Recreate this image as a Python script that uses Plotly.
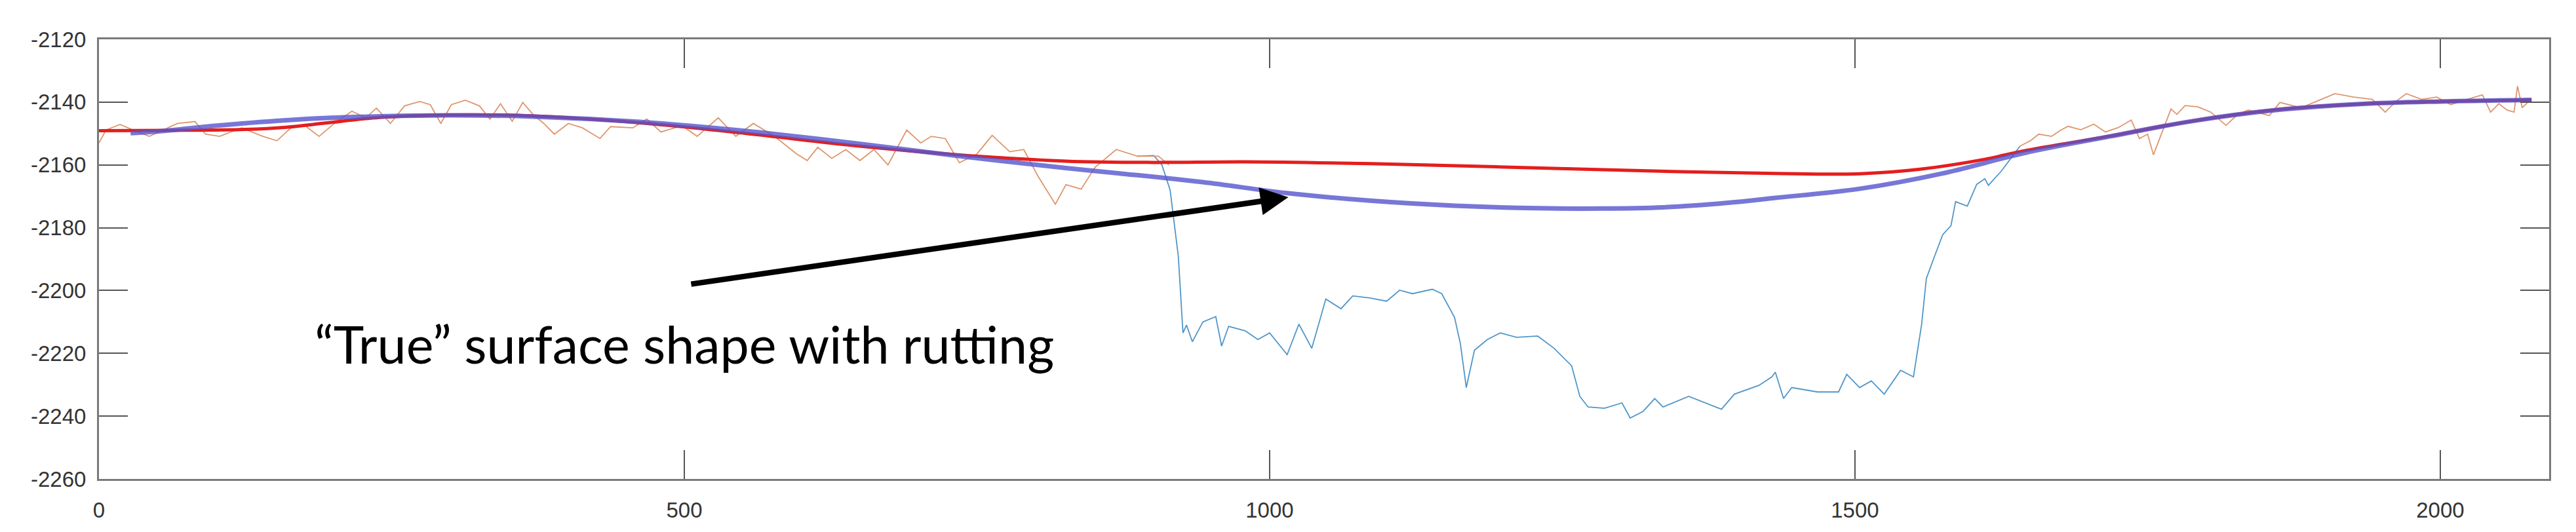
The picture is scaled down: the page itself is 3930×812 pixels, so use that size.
import plotly.graph_objects as go

# ---------------- data ----------------
# thin orange profile (outside the rut)
orange_x_left = [0, 6, 18, 31, 43, 67, 82, 91, 103, 122, 140, 152, 164, 176, 188, 201, 216, 228, 237, 249,
                 261, 274, 283, 292, 301, 313, 325, 334, 343, 353, 362, 371, 380, 389, 401, 413, 428, 437,
                 456, 468, 480, 498, 511, 529, 544, 559, 577, 596, 605, 614, 626, 638, 650, 662, 674, 690,
                 702, 711, 723, 735, 750, 763, 778, 790, 802, 817, 826, 839, 851, 869, 887, 905, 914]
orange_y_left = [-2153, -2148.9, -2147.1, -2149.2, -2150.9, -2146.8, -2146.2, -2150.2, -2150.9, -2148.2,
                 -2150.9, -2152.3, -2148.2, -2147.5, -2150.9, -2146.8, -2142.9, -2145.0, -2141.9, -2146.8,
                 -2141.2, -2139.8, -2140.8, -2146.8, -2140.8, -2139.4, -2141.2, -2145.4, -2140.5, -2146.1,
                 -2140.1, -2144.0, -2146.8, -2150.2, -2146.8, -2148.2, -2151.6, -2147.8, -2148.2, -2145.4,
                 -2149.5, -2147.5, -2150.9, -2145.0, -2150.9, -2146.8, -2150.9, -2156.5, -2158.6, -2154.4,
                 -2157.9, -2155.1, -2158.6, -2155.1, -2160.0, -2148.9, -2153.0, -2150.9, -2151.6, -2159.3,
                 -2156.5, -2150.6, -2155.8, -2155.1, -2163.5, -2172.5, -2166.3, -2167.7, -2160.7, -2155.1,
                 -2157.2, -2157.2, -2160.0]
orange_x_right = [1641, 1650, 1657, 1668, 1675, 1682, 1693, 1704, 1714, 1725, 1736, 1743, 1750, 1755, 1761,
                  1770, 1775, 1782, 1793, 1804, 1817, 1827, 1836, 1854, 1863, 1881, 1894, 1910, 1926, 1942,
                  1953, 1962, 1971, 1984, 1997, 2009, 2023, 2036, 2043, 2050, 2057, 2063, 2066, 2070, 2077]
orange_y_right = [-2154.0, -2152.3, -2150.2, -2150.9, -2149.1, -2147.7, -2148.8, -2147.0, -2149.5, -2148.1,
                  -2145.7, -2151.6, -2150.2, -2156.8, -2150.9, -2142.2, -2143.9, -2141.1, -2141.5, -2143.2,
                  -2147.4, -2143.9, -2142.5, -2144.3, -2140.1, -2141.8, -2139.8, -2137.3, -2138.4, -2139.1,
                  -2143.2, -2139.8, -2137.3, -2139.1, -2138.4, -2140.8, -2139.1, -2137.7, -2143.2, -2140.5,
                  -2142.5, -2143.2, -2134.9, -2141.8, -2139.2]

# thin blue profile (rutted section)
rut_x = [887, 901, 908, 915, 922, 926, 929, 934, 943, 954, 959, 965, 979, 990, 1000, 1015, 1025, 1036,
         1043, 1048, 1061, 1071, 1086, 1100, 1111, 1122, 1139, 1147, 1158, 1163, 1168, 1175, 1186, 1197,
         1211, 1229, 1243, 1258, 1265, 1272, 1286, 1301, 1308, 1319, 1329, 1336, 1358, 1372, 1386, 1397,
         1418, 1429, 1432, 1439, 1446, 1468, 1486, 1493, 1504, 1514, 1525, 1539, 1550, 1557, 1561, 1568,
         1575, 1582, 1586, 1596, 1604, 1611, 1614, 1625, 1632, 1641]
rut_y = [-2157.2, -2157.0, -2160.0, -2168.0, -2189.1, -2213.5, -2211.0, -2216.3, -2210.0, -2208.3, -2217.7,
         -2211.4, -2212.8, -2215.6, -2213.5, -2220.4, -2210.7, -2218.4, -2209.3, -2202.7, -2205.8, -2201.7,
         -2202.4, -2203.4, -2199.9, -2201.0, -2199.6, -2201.0, -2208.6, -2217.0, -2230.9, -2219.0, -2215.6,
         -2213.5, -2214.9, -2214.5, -2218.4, -2224.0, -2233.7, -2237.1, -2237.5, -2235.8, -2240.6, -2238.5,
         -2234.4, -2237.1, -2233.7, -2235.8, -2237.8, -2233.0, -2230.2, -2227.5, -2226.0, -2234.4, -2230.9,
         -2232.3, -2232.3, -2226.7, -2230.9, -2228.8, -2233.0, -2225.4, -2227.5, -2210.7, -2196.2, -2189.1,
         -2182.2, -2179.4, -2171.7, -2173.1, -2166.2, -2164.4, -2166.5, -2162.0, -2158.5, -2154.0]

# red smooth fit
red_x = [0, 60, 125, 160, 195, 240, 300, 371, 462, 553, 644, 735, 826, 900, 979, 1086, 1193, 1301, 1432,
         1504, 1557, 1611, 1646, 1718, 1789, 1861, 1932, 2000, 2078]
red_y = [-2149.1, -2149.0, -2148.7, -2148.0, -2146.6, -2144.9, -2144.1, -2144.4, -2146.6, -2150.0, -2153.8,
         -2156.8, -2158.8, -2159.2, -2159.0, -2159.6, -2160.6, -2161.7, -2162.7, -2162.8, -2161.3, -2158.2,
         -2155.4, -2150.8, -2146.0, -2142.4, -2140.6, -2139.8, -2139.3]

# "true" surface shape (blue thick)
true_x = [27, 60, 97, 158, 219, 298, 371, 462, 553, 644, 735, 826, 872, 943, 1015, 1086, 1158, 1229, 1283,
          1336, 1390, 1432, 1504, 1575, 1646, 1718, 1789, 1861, 1932, 2000, 2078]
true_y = [-2149.9, -2149.0, -2147.6, -2145.8, -2144.7, -2144.2, -2144.6, -2146.3, -2149.2, -2153.0, -2157.2,
          -2161.0, -2162.7, -2165.5, -2169.0, -2171.4, -2173.0, -2173.8, -2173.9, -2173.5, -2172.1, -2170.5,
          -2167.6, -2162.7, -2156.1, -2150.9, -2146.0, -2142.5, -2140.6, -2139.8, -2139.3]

x_ticks = [0, 500, 1000, 1500, 2000]
x_tick_text = ["0", "500", "1000", "1500", "2000"]
y_ticks = [-2260, -2240, -2220, -2200, -2180, -2160, -2140, -2120]
y_tick_text = ["-2260", "-2240", "-2220", "-2200", "-2180", "-2160", "-2140", "-2120"]

annotation_text = "\u201cTrue\u201d surface shape with rutting"

# ---------------- figure ----------------
fig = go.Figure()
fig.add_trace(go.Scatter(x=rut_x, y=rut_y, mode="lines",
                         line=dict(color="rgb(80,150,200)", width=1.8)))
fig.add_trace(go.Scatter(x=orange_x_left, y=orange_y_left, mode="lines",
                         line=dict(color="rgb(222,150,110)", width=1.8)))
fig.add_trace(go.Scatter(x=orange_x_right, y=orange_y_right, mode="lines",
                         line=dict(color="rgb(222,150,110)", width=1.8)))
fig.add_trace(go.Scatter(x=red_x, y=red_y, mode="lines", line_shape="spline",
                         line=dict(color="rgb(228,30,30)", width=5)))
fig.add_trace(go.Scatter(x=true_x, y=true_y, mode="lines", line_shape="spline",
                         line=dict(color="rgba(85,85,205,0.8)", width=7)))

fig.add_annotation(x=500, y=-2217, xref="x", yref="y", text=annotation_text, showarrow=False,
                   font=dict(family="Lato", size=79, color="black"))
fig.add_annotation(x=1016, y=-2170.3, xref="x", yref="y", ax=505, ay=-2198, axref="x", ayref="y",
                   text="", showarrow=True, arrowhead=2, arrowsize=1, arrowwidth=8.5, arrowcolor="black")

axis_common = dict(showline=True, linecolor="#7a7a7a", linewidth=3, mirror="ticks", ticks="inside",
                   ticklen=44, tickwidth=2, tickcolor="#555555", showgrid=False, zeroline=False,
                   tickfont=dict(family="Liberation Sans", size=33, color="#333333"))
fig.update_xaxes(range=[0, 2093], tickvals=x_ticks, ticktext=x_tick_text, ticklabelstandoff=16, **axis_common)
fig.update_yaxes(range=[-2260, -2120], tickvals=y_ticks, ticktext=y_tick_text, ticklabelstandoff=10, **axis_common)

fig.update_layout(width=3930, height=812, margin=dict(l=143, r=49, t=52, b=89, pad=0),
                  plot_bgcolor="white", paper_bgcolor="white", showlegend=False)

fig.write_html("out.html")
